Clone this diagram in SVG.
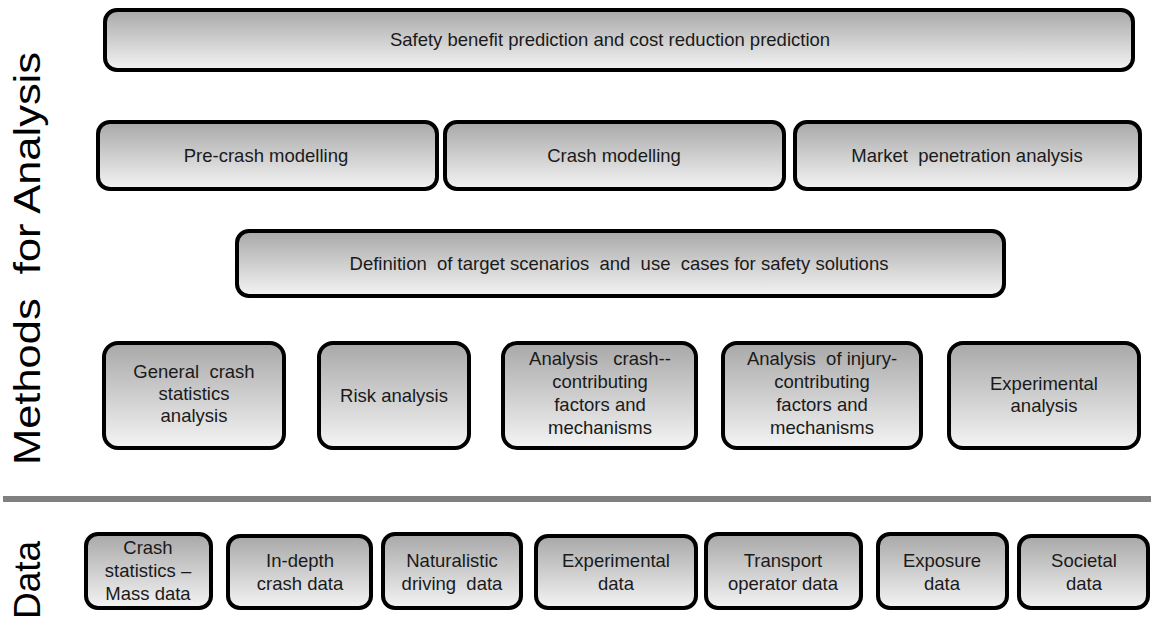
<svg xmlns="http://www.w3.org/2000/svg" width="1151" height="621" viewBox="0 0 1151 621">
<defs>
<linearGradient id="g" x1="0" y1="0" x2="0" y2="1">
<stop offset="0" stop-color="#a8a8a8"/>
<stop offset="1" stop-color="#f4f4f4"/>
</linearGradient>
<style>
.b{fill:url(#g);stroke:#000;stroke-width:4}
.t{font-family:"Liberation Sans",Arial,sans-serif;font-size:18.5px;fill:#1a1a1a;text-anchor:middle;white-space:pre}
.h{font-family:"Liberation Sans",Arial,sans-serif;font-size:37px;fill:#000;white-space:pre}
</style>
</defs>
<text class="h" transform="translate(40,465) rotate(-90)" textLength="413" lengthAdjust="spacingAndGlyphs">Methods  for Analysis</text>
<text class="h" transform="translate(40,619) rotate(-90)">Data</text>
<rect x="3" y="496" width="1148" height="6" fill="#808080"/>
<g id="connectors"/>
<g id="n-top"><rect class="b" x="105" y="10" width="1028" height="60" rx="12"/><text class="t" x="610" y="46">Safety benefit prediction and cost reduction prediction</text></g>
<g id="n-precrash"><rect class="b" x="98" y="122" width="339" height="67" rx="12"/><text class="t" x="266" y="162">Pre-crash modelling</text></g>
<g id="n-crash"><rect class="b" x="445" y="122" width="339" height="67" rx="12"/><text class="t" x="614" y="162">Crash modelling</text></g>
<g id="n-market"><rect class="b" x="795" y="122" width="345" height="67" rx="12"/><text class="t" x="967" y="162">Market  penetration analysis</text></g>
<g id="n-definition"><rect class="b" x="237" y="231" width="767" height="65" rx="12"/><text class="t" x="619" y="270">Definition  of target scenarios  and  use  cases for safety solutions</text></g>
<g id="n-general"><rect class="b" x="104" y="343" width="180" height="105" rx="14"/><text class="t" x="194" y="378">General  crash</text><text class="t" x="194" y="400">statistics</text><text class="t" x="194" y="422">analysis</text></g>
<g id="n-risk"><rect class="b" x="319" y="343" width="150" height="105" rx="14"/><text class="t" x="394" y="402">Risk analysis</text></g>
<g id="n-crashfactors"><rect class="b" x="503" y="343" width="193" height="105" rx="14"/><text class="t" x="600" y="365">Analysis   crash--</text><text class="t" x="600" y="388">contributing</text><text class="t" x="600" y="411">factors and</text><text class="t" x="600" y="434">mechanisms</text></g>
<g id="n-injury"><rect class="b" x="723" y="343" width="198" height="105" rx="14"/><text class="t" x="822" y="365">Analysis  of injury-</text><text class="t" x="822" y="388">contributing</text><text class="t" x="822" y="411">factors and</text><text class="t" x="822" y="434">mechanisms</text></g>
<g id="n-experimental"><rect class="b" x="949" y="343" width="190" height="105" rx="14"/><text class="t" x="1044" y="390">Experimental</text><text class="t" x="1044" y="412">analysis</text></g>
<g id="d-crashstats"><rect class="b" x="86" y="534" width="125" height="74" rx="12"/><text class="t" x="148" y="554">Crash</text><text class="t" x="148" y="577">statistics –</text><text class="t" x="148" y="600">Mass data</text></g>
<g id="d-indepth"><rect class="b" x="228" y="536" width="143" height="72" rx="12"/><text class="t" x="300" y="567">In-depth</text><text class="t" x="300" y="590">crash data</text></g>
<g id="d-naturalistic"><rect class="b" x="383" y="534" width="138" height="74" rx="12"/><text class="t" x="452" y="567">Naturalistic</text><text class="t" x="452" y="590">driving  data</text></g>
<g id="d-experimental"><rect class="b" x="536" y="536" width="160" height="72" rx="12"/><text class="t" x="616" y="567">Experimental</text><text class="t" x="616" y="590">data</text></g>
<g id="d-transport"><rect class="b" x="706" y="534" width="155" height="74" rx="12"/><text class="t" x="783" y="567">Transport</text><text class="t" x="783" y="590">operator data</text></g>
<g id="d-exposure"><rect class="b" x="878" y="534" width="129" height="74" rx="12"/><text class="t" x="942" y="567">Exposure</text><text class="t" x="942" y="590">data</text></g>
<g id="d-societal"><rect class="b" x="1019" y="536" width="129" height="72" rx="12"/><text class="t" x="1084" y="567">Societal</text><text class="t" x="1084" y="590">data</text></g>
</svg>
